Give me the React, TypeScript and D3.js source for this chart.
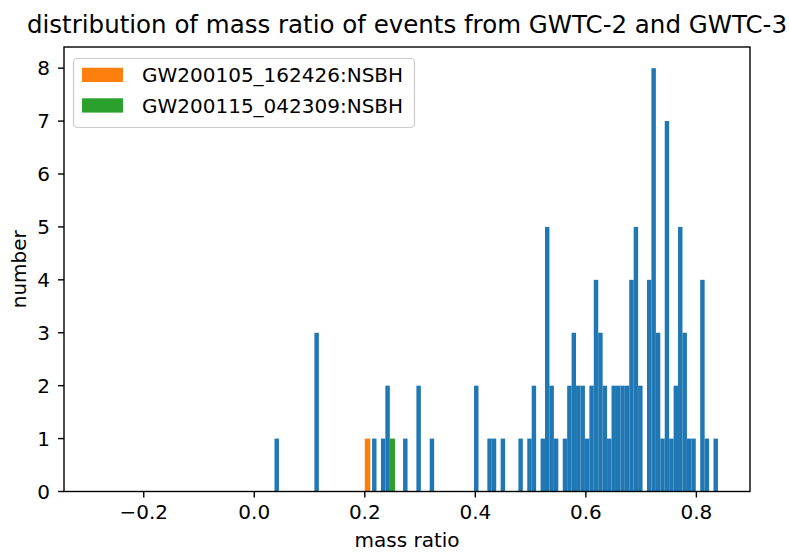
import React from "react";
import * as d3 from "d3";

// Histogram of mass ratio (100 equal bins between lo and hi)
const massRatioBinLo = 0.0366;
const massRatioBinHi = 0.839;
const massRatioCounts = [
  1, 0, 0, 0, 0, 0, 0, 0, 0, 3,
  0, 0, 0, 0, 0, 0, 0, 0, 0, 0,
  0, 0, 1, 0, 1, 2, 0, 0, 0, 1,
  0, 0, 2, 0, 0, 1, 0, 0, 0, 0,
  0, 0, 0, 0, 0, 2, 0, 0, 1, 1,
  0, 1, 0, 0, 0, 1, 0, 1, 2, 0,
  1, 5, 2, 1, 0, 1, 2, 3, 2, 2,
  1, 2, 4, 3, 2, 1, 2, 2, 2, 2,
  4, 5, 2, 0, 4, 8, 3, 1, 7, 1,
  2, 5, 3, 1, 1, 0, 4, 1, 0, 1,
];

// NSBH events, each a single-event histogram bin
const nsbhNames = ["GW200105_162426:NSBH", "GW200115_042309:NSBH"];
const nsbhRatios = [0.2, 0.2445];
const nsbhCounts = [1, 1];
const nsbhBinWidth = 0.01;

const xTicks = [-0.2, 0.0, 0.2, 0.4, 0.6, 0.8];
const yTicks = [0, 1, 2, 3, 4, 5, 6, 7, 8];

const W = 789;
const H = 552;
const left = 64;
const right = 750;
const top = 47;
const bottom = 491.5;

const BLUE = "#1f77b4";
const NSBH_COLORS = ["#ff7f0e", "#2ca02c"];
const FONT = "DejaVu Sans";

export default function App() {
  const x = d3.scaleLinear().domain([-0.3443, 0.897]).range([left, right]);
  const y = d3.scaleLinear().domain([0, 8.4]).range([bottom, top]);
  const nb = massRatioCounts.length;
  const bw = (massRatioBinHi - massRatioBinLo) / nb;
  const fmt = d3.format(".1f");

  return (
    <svg
      width={W}
      height={H}
      style={{ position: "absolute", left: 0, top: 0, background: "#fff" }}
      fontFamily={FONT}
    >
      <rect x={0} y={0} width={W} height={H} fill="#fff" />
      {massRatioCounts.map((c, i) =>
        c > 0 ? (
          <rect
            key={"b" + i}
            x={x(massRatioBinLo + i * bw)}
            width={x(massRatioBinLo + (i + 1) * bw) - x(massRatioBinLo + i * bw)}
            y={y(c)}
            height={y(0) - y(c)}
            fill={BLUE}
          />
        ) : null
      )}
      {nsbhRatios.map((q, i) => (
        <rect
          key={"n" + i}
          x={x(q)}
          width={x(q + nsbhBinWidth) - x(q)}
          y={y(nsbhCounts[i])}
          height={y(0) - y(nsbhCounts[i])}
          fill={NSBH_COLORS[i]}
        />
      ))}
      {/* spines */}
      <rect
        x={left}
        y={top}
        width={right - left}
        height={bottom - top}
        fill="none"
        stroke="#000"
        strokeWidth={1.4}
      />
      {/* x ticks */}
      {xTicks.map((t) => (
        <g key={"xt" + t}>
          <line x1={x(t)} x2={x(t)} y1={bottom} y2={bottom + 6} stroke="#000" strokeWidth={1.4} />
          <text x={x(t)} y={519} textAnchor="middle" fontSize={20} fill="#000">
            {fmt(t)}
          </text>
        </g>
      ))}
      {/* y ticks */}
      {yTicks.map((t) => (
        <g key={"yt" + t}>
          <line x1={left - 6} x2={left} y1={y(t)} y2={y(t)} stroke="#000" strokeWidth={1.4} />
          <text x={50} y={y(t) + 7} textAnchor="end" fontSize={20} fill="#000">
            {t}
          </text>
        </g>
      ))}
      {/* labels */}
      <text x={(left + right) / 2} y={547} textAnchor="middle" fontSize={20} fill="#000">
        mass ratio
      </text>
      <text
        transform={`translate(26,${(top + bottom) / 2}) rotate(-90)`}
        textAnchor="middle"
        fontSize={20}
        fill="#000"
      >
        number
      </text>
      <text x={(left + right) / 2} y={33} textAnchor="middle" fontSize={24.5} fill="#000">
        distribution of mass ratio of events from GWTC-2 and GWTC-3
      </text>
      {/* legend */}
      <rect
        x={73.5}
        y={58.5}
        width={341}
        height={69}
        rx={4}
        fill="#fff"
        fillOpacity={0.8}
        stroke="#cccccc"
        strokeWidth={1.2}
      />
      {nsbhNames.map((n, i) => (
        <g key={"lg" + i}>
          <rect x={82} y={67.7 + i * 30.6} width={41} height={14.3} fill={NSBH_COLORS[i]} />
          <text x={142} y={82 + i * 30.6} fontSize={20} fill="#000">
            {n}
          </text>
        </g>
      ))}
    </svg>
  );
}
